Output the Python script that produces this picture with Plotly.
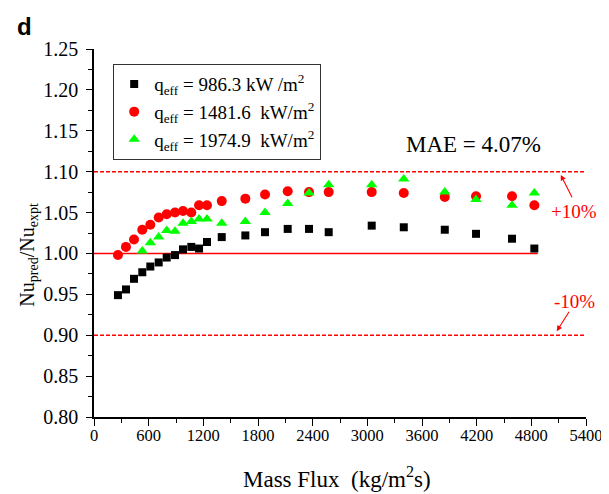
import plotly.graph_objects as go

# Mass flux values (kg/m2 s)
mass_flux = [263, 351, 439, 530, 618, 710, 798, 889, 977, 1068, 1153, 1240,
             1402, 1661, 1877, 2126, 2360, 2576, 3048, 3400, 3850, 4193, 4588, 4833]

# Nu_pred / Nu_expt for each heat flux
ratio_986 = [0.949, 0.956, 0.969, 0.977, 0.984, 0.989, 0.995, 0.998, 1.005, 1.008, 1.006, 1.014,
             1.020, 1.022, 1.026, 1.030, 1.030, 1.026, 1.034, 1.032, 1.029, 1.024, 1.018, 1.006]
ratio_1481 = [0.998, 1.008, 1.017, 1.029, 1.035, 1.044, 1.048, 1.050, 1.052, 1.050, 1.059, 1.059,
              1.064, 1.067, 1.072, 1.076, 1.075, 1.075, 1.075, 1.074, 1.069, 1.070, 1.070, 1.059]
mass_flux_1974 = mass_flux[3:]
ratio_1974 = [1.003, 1.013, 1.020, 1.028, 1.027, 1.037, 1.039, 1.042, 1.042,
              1.037, 1.039, 1.050, 1.061, 1.074, 1.084, 1.084, 1.091, 1.075, 1.066, 1.059, 1.074]

names = ["q<sub>eff</sub>\u00a0= 986.3 kW /m<sup>2</sup>",
         "q<sub>eff</sub>\u00a0= 1481.6\u00a0\u00a0kW/m<sup>2</sup>",
         "q<sub>eff</sub>\u00a0= 1974.9\u00a0\u00a0kW/m<sup>2</sup>"]

x_ticks = [0, 600, 1200, 1800, 2400, 3000, 3600, 4200, 4800, 5400]
y_ticks = [0.80, 0.85, 0.90, 0.95, 1.00, 1.05, 1.10, 1.15, 1.20, 1.25]

SERIF = "Liberation Serif, Times New Roman, serif"
RED = "#ff0000"

fig = go.Figure()
fig.add_trace(go.Scatter(x=mass_flux, y=ratio_986, mode="markers", name=names[0],
                         marker=dict(symbol="square", size=8, color="black")))
fig.add_trace(go.Scatter(x=mass_flux, y=ratio_1481, mode="markers", name=names[1],
                         marker=dict(symbol="circle", size=10, color=RED)))
fig.add_trace(go.Scatter(x=mass_flux_1974, y=ratio_1974, mode="markers", name=names[2],
                         marker=dict(symbol="triangle-up", size=10, color="#00ff00")))

# reference lines
fig.add_shape(type="line", x0=0, x1=5400, y0=1.10, y1=1.10, xref="x", yref="y",
              line=dict(color=RED, width=1.5, dash="4px,2px"), layer="below")
fig.add_shape(type="line", x0=0, x1=5400, y0=0.90, y1=0.90, xref="x", yref="y",
              line=dict(color=RED, width=1.5, dash="4px,2px"), layer="below")
fig.add_shape(type="line", x0=0, x1=4870, y0=1.00, y1=1.00, xref="x", yref="y",
              line=dict(color=RED, width=1.4), layer="below")

annos = [
    dict(text="MAE = 4.07%", x=4160, y=1.133, xref="x", yref="y", showarrow=False,
         xanchor="center", yanchor="middle",
         font=dict(family=SERIF, size=23, color="black")),
    dict(text="+10%", x=5263, y=1.0516, xref="x", yref="y", showarrow=False,
         xanchor="center", yanchor="middle",
         font=dict(family=SERIF, size=19, color=RED)),
    dict(text="-10%", x=5272, y=0.9418, xref="x", yref="y", showarrow=False,
         xanchor="center", yanchor="middle",
         font=dict(family=SERIF, size=19, color=RED)),
    dict(text="", x=5123, y=1.096, ax=5255, ay=1.067, xref="x", yref="y",
         axref="x", ayref="y", showarrow=True, arrowhead=2, arrowsize=1,
         arrowwidth=1.1, arrowcolor=RED),
    dict(text="", x=5079, y=0.9049, ax=5225, ay=0.9305, xref="x", yref="y",
         axref="x", ayref="y", showarrow=True, arrowhead=2, arrowsize=1,
         arrowwidth=1.1, arrowcolor=RED),
    dict(text="<b>d</b>", x=-0.142, y=1.06, xref="paper", yref="paper", showarrow=False,
         xanchor="center", yanchor="middle",
         font=dict(family="Liberation Sans, Arial, sans-serif", size=24, color="black")),
    dict(text="Nu<sub>pred</sub>/Nu<sub>expt</sub>", x=-0.135, y=0.44, xref="paper",
         yref="paper", showarrow=False, textangle=-90, xanchor="center", yanchor="middle",
         font=dict(family=SERIF, size=20, color="black")),
    dict(text="Mass Flux\u00a0\u00a0(kg/m<sup>2</sup>s)", x=0.494, y=-0.164, xref="paper",
         yref="paper", showarrow=False, xanchor="center", yanchor="middle",
         font=dict(family=SERIF, size=23, color="black")),
]

# the page body adds an 8px offset, so the figure is sized to the remaining window
fig.update_layout(
    width=601, height=486,
    margin=dict(l=86, r=23, t=41, b=77),
    paper_bgcolor="white", plot_bgcolor="white",
    font=dict(family=SERIF, size=17, color="black"),
    annotations=annos,
    showlegend=True,
    legend=dict(x=0.039, y=0.959, xanchor="left", yanchor="top",
                bordercolor="#333333", borderwidth=1, bgcolor="white",
                font=dict(family=SERIF, size=19, color="black")),
    xaxis=dict(range=[0, 5400], tickvals=x_ticks, ticktext=[str(v) for v in x_ticks],
               automargin=False, ticklabelstandoff=-5,
               showgrid=False, zeroline=False, showline=True, linecolor="black",
               linewidth=1.5, ticks="outside", ticklen=7, tickwidth=1.3, tickcolor="black",
               minor=dict(dtick=300, ticks="outside", ticklen=4, tickwidth=1.3,
                          tickcolor="black", showgrid=False),
               tickfont=dict(family=SERIF, size=16.5)),
    yaxis=dict(range=[0.80, 1.25], tickvals=y_ticks, ticktext=[f"{v:.2f}" for v in y_ticks],
               automargin=False, ticklabelstandoff=4,
               showgrid=False, zeroline=False, showline=True, linecolor="black",
               linewidth=1.5, ticks="outside", ticklen=6, tickwidth=1.3, tickcolor="black",
               minor=dict(dtick=0.025, tick0=0.8, ticks="outside", ticklen=4, tickwidth=1.3,
                          tickcolor="black", showgrid=False),
               tickfont=dict(family=SERIF, size=20)),
)

fig.write_html("out.html")
